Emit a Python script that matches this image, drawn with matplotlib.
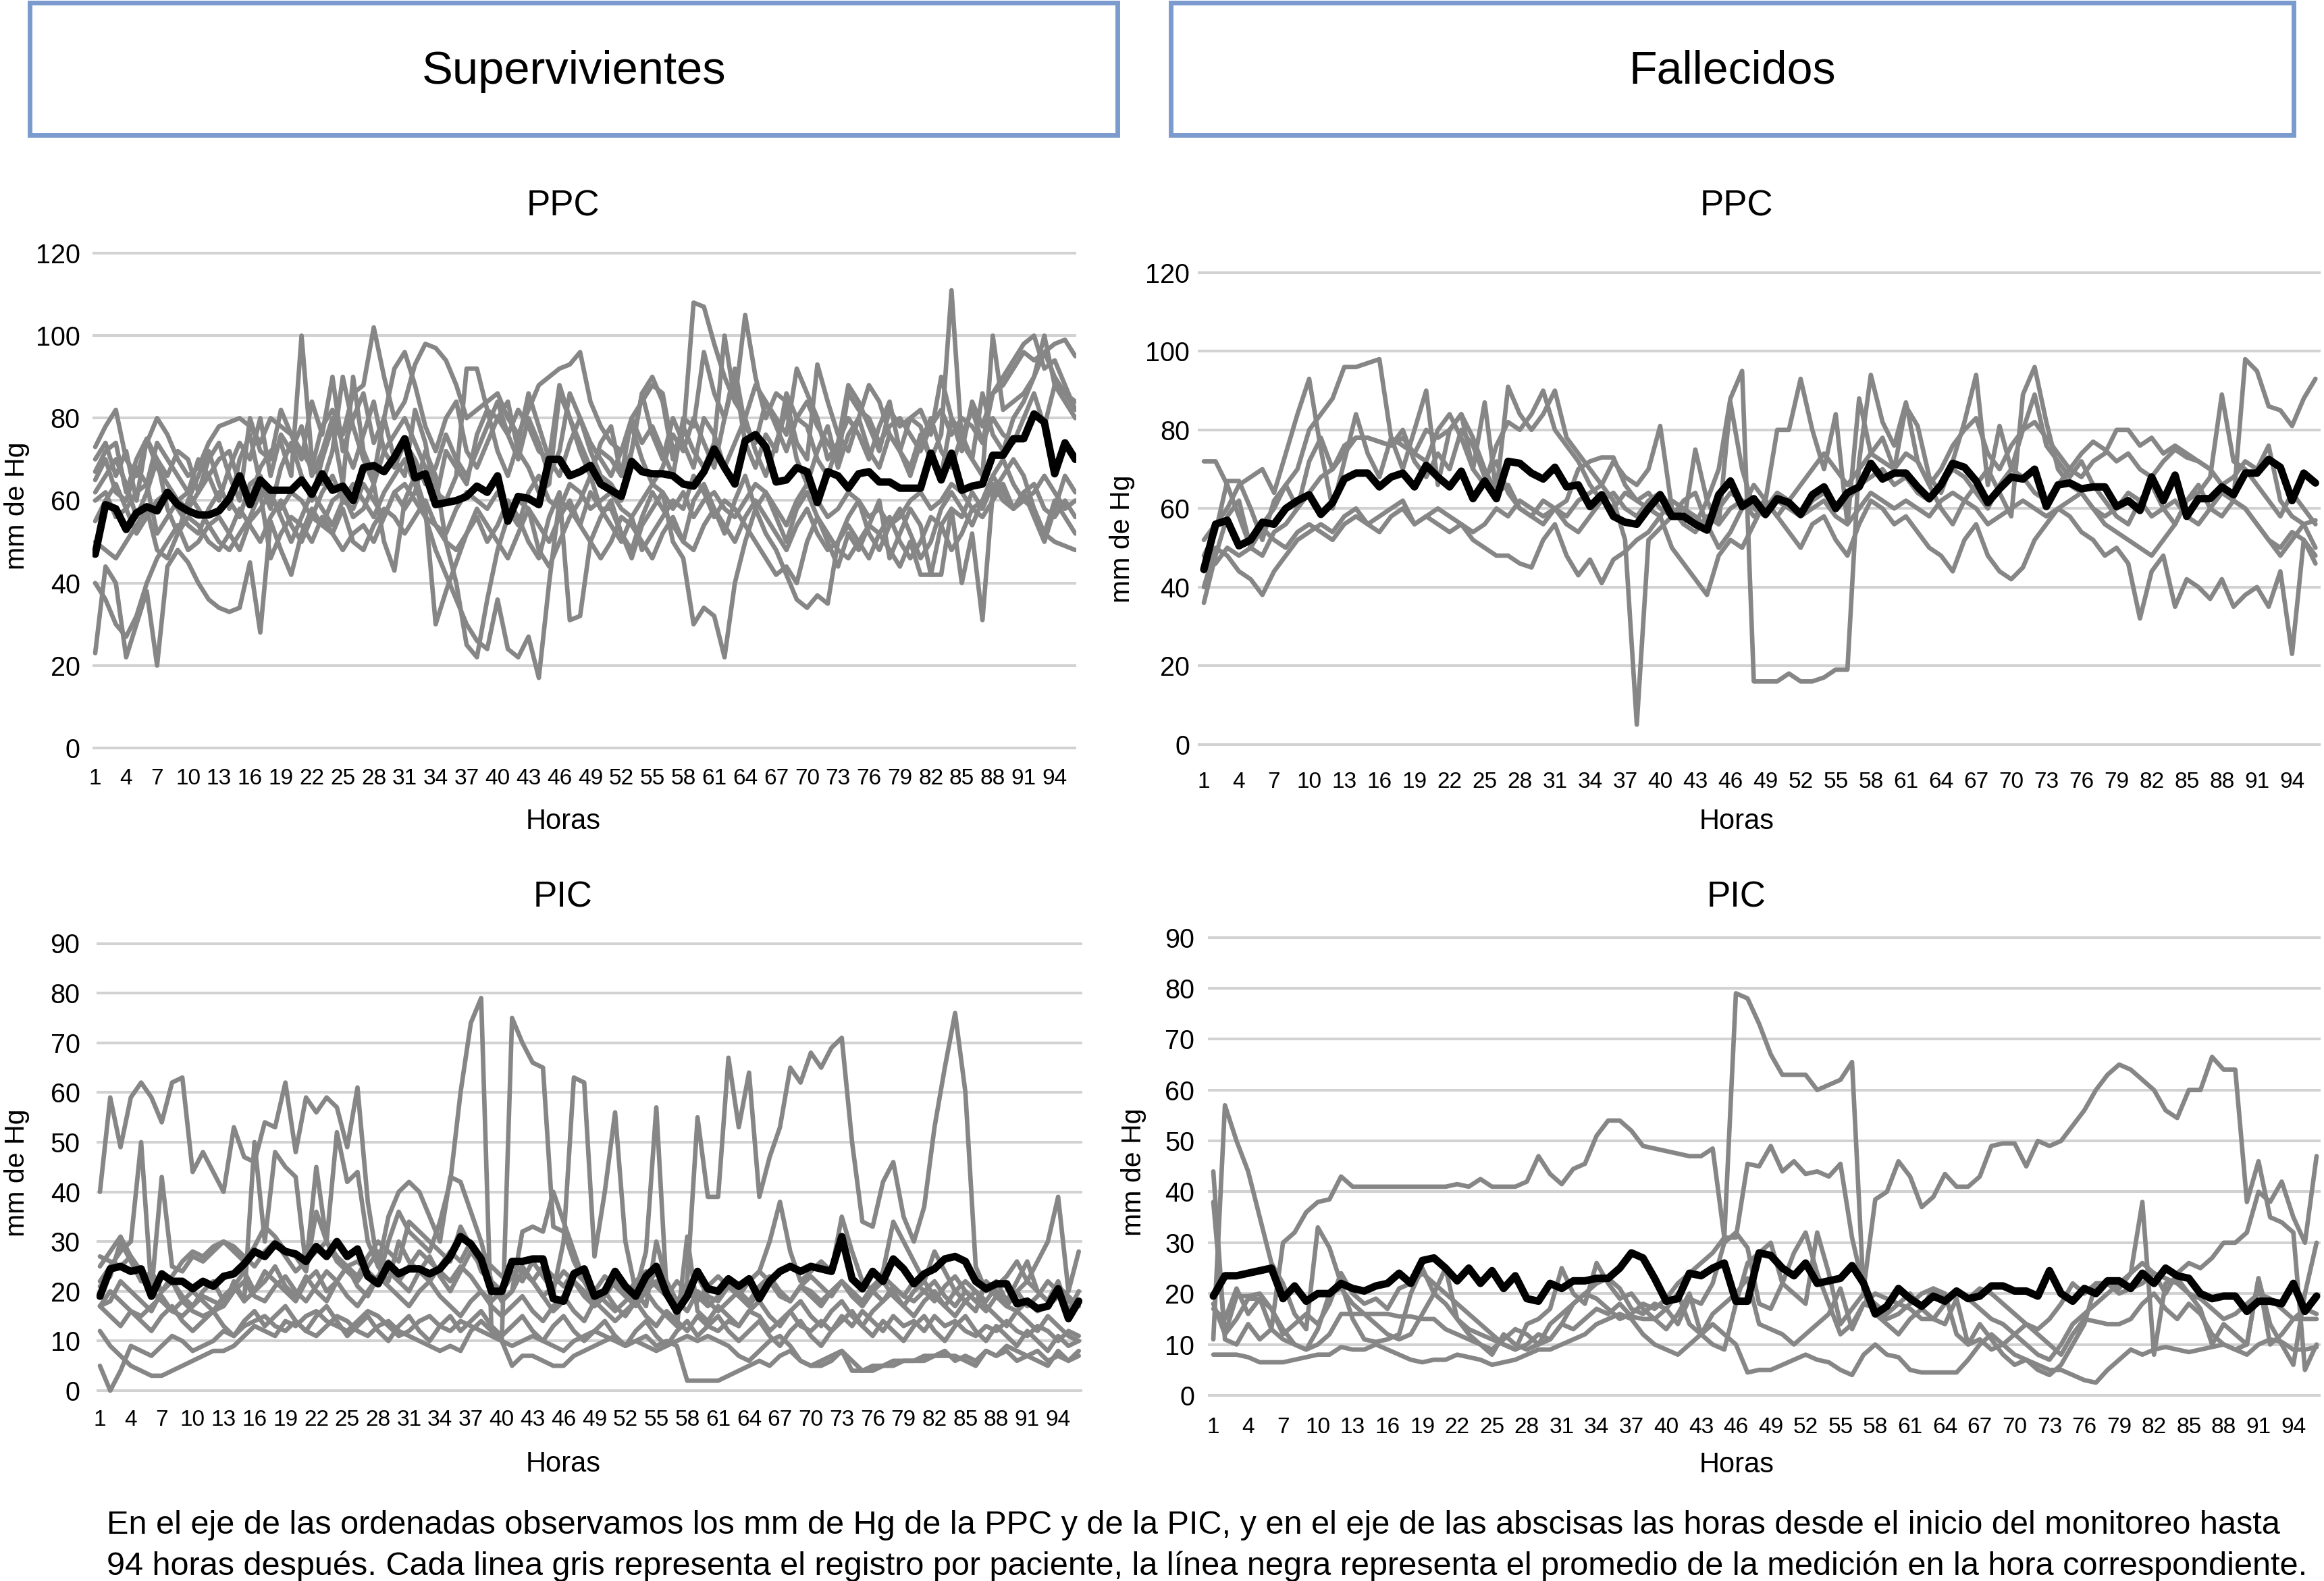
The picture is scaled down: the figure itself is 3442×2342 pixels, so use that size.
import matplotlib
matplotlib.use("Agg")
import matplotlib.pyplot as plt
from matplotlib.patches import Rectangle

# ---------------- data ----------------
TICKS_X = list(range(1, 97, 3))
TICKS_PPC = [0, 20, 40, 60, 80, 100, 120]
TICKS_PIC = [0, 10, 20, 30, 40, 50, 60, 70, 80, 90]

GROUPS = ["Supervivientes", "Fallecidos"]

S_PPC_MEAN = [47, 59, 58, 53, 57, 58.5, 57.5, 62, 59, 57.5,
              56.5, 56.5, 57.5, 60.5, 66, 59, 65, 62.5, 62.5, 62.5,
              65, 61.5, 66.5, 62.5, 63.5, 60, 68, 68.5, 67, 70.5,
              75, 65.5, 66.5, 59, 59.5, 60, 61, 63.5, 62, 66,
              55, 61, 60.5, 59, 70, 70, 66, 67, 68.5, 64,
              62.5, 61, 69.5, 67, 66.5, 66.5, 66, 64, 63.5, 67,
              72.5, 68, 64, 74.5, 76, 73, 64.5, 65, 68, 67,
              59.5, 67, 66, 63, 66.5, 67, 64.5, 64.5, 63, 63,
              63, 71.5, 65, 71.5, 62.5, 63.5, 64, 71, 71, 75,
              75, 81, 79, 66.5, 74, 70]

S_PPC_P01 = [73, 78, 82, 70, 66, 74, 80, 76, 70, 66,
             68, 74, 78, 79, 80, 78, 74, 80, 78, 76,
             72, 68, 78, 82, 76, 86, 88, 102, 90, 80,
             84, 93, 98, 97, 94, 88, 80, 82, 84, 86,
             80, 76, 82, 88, 90, 92, 93, 96, 84, 78,
             74, 72, 80, 84, 88, 86, 72, 76, 108, 107,
             98, 90, 84, 80, 88, 84, 78, 72, 80, 84,
             78, 74, 70, 86, 82, 80, 74, 78, 80, 76,
             72, 78, 82, 76, 80, 78, 74, 86, 88, 92,
             96, 94, 96, 98, 99, 95]
S_PPC_P02 = [67, 72, 74, 62, 70, 75, 68, 64, 60, 58,
             62, 66, 70, 72, 64, 60, 68, 72, 74, 66,
             100, 70, 64, 72, 90, 78, 70, 64, 72, 76,
             80, 74, 68, 62, 60, 66, 92, 92, 82, 80,
             76, 82, 78, 72, 70, 66, 74, 80, 72, 66,
             64, 60, 72, 86, 90, 84, 70, 78, 72, 68,
             74, 100, 84, 105, 90, 80, 86, 84, 74, 70,
             93, 84, 76, 72, 80, 88, 84, 76, 72, 80,
             78, 70, 76, 111, 74, 70, 66, 100, 82, 84,
             86, 90, 100, 88, 86, 82]
S_PPC_P03 = [40, 36, 30, 27, 32, 40, 46, 50, 54, 48,
             50, 54, 56, 52, 48, 55, 58, 62, 56, 50,
             56, 62, 58, 54, 60, 64, 60, 56, 62, 66,
             70, 64, 56, 48, 42, 36, 30, 26, 24, 36,
             24, 22, 27, 17, 40, 60, 58, 54, 62, 58,
             58, 52, 48, 56, 62, 58, 54, 50, 60, 64,
             58, 52, 60, 66, 58, 52, 48, 42, 36, 34,
             37, 35, 50, 56, 60, 52, 48, 54, 58, 52,
             46, 50, 58, 62, 58, 54, 60, 66, 62, 58,
             60, 58, 52, 50, 49, 48]
S_PPC_P04 = [23, 44, 40, 22, 30, 38, 20, 44, 48, 45,
             40, 36, 34, 33, 34, 45, 28, 55, 48, 42,
             52, 58, 54, 60, 62, 56, 58, 64, 50, 43,
             60, 66, 58, 30, 38, 45, 52, 56, 50, 54,
             60, 56, 50, 46, 56, 62, 31, 32, 50, 56,
             60, 52, 46, 54, 58, 62, 50, 46, 30, 34,
             32, 22, 40, 50, 58, 62, 56, 50, 58, 62,
             56, 50, 44, 52, 48, 54, 60, 46, 52, 58,
             54, 42, 42, 58, 40, 52, 31, 62, 66, 70,
             66, 58, 52, 60, 56, 52]
S_PPC_P05 = [60, 62, 56, 58, 62, 64, 52, 56, 60, 62,
             58, 54, 50, 48, 52, 56, 62, 46, 52, 56,
             54, 50, 56, 52, 48, 52, 54, 50, 56, 62,
             58, 62, 72, 66, 50, 40, 25, 22, 36, 48,
             56, 60, 58, 48, 44, 50, 56, 60, 66, 58,
             54, 50, 56, 48, 52, 56, 60, 58, 66, 62,
             56, 60, 58, 54, 50, 46, 42, 44, 40, 50,
             56, 52, 48, 46, 50, 54, 52, 48, 44, 50,
             42, 42, 54, 58, 56, 62, 58, 64, 60, 58,
             62, 56, 50, 58, 66, 62]
S_PPC_P06 = [70, 74, 66, 72, 60, 75, 70, 66, 72, 70,
             62, 70, 74, 66, 60, 80, 72, 70, 82, 76,
             70, 84, 76, 90, 72, 80, 86, 74, 80, 92,
             96, 88, 78, 72, 80, 84, 72, 68, 74, 80,
             84, 72, 68, 62, 64, 86, 80, 74, 68, 72,
             70, 66, 80, 74, 78, 72, 66, 80, 78, 96,
             86, 80, 92, 78, 74, 84, 80, 76, 92, 86,
             80, 70, 74, 88, 84, 78, 72, 82, 78, 80,
             82, 76, 90, 80, 72, 84, 78, 86, 90, 94,
             98, 100, 92, 94, 88, 82]
S_PPC_P07 = [55, 60, 64, 58, 52, 56, 60, 62, 58, 54,
             52, 58, 62, 60, 56, 64, 66, 60, 58, 62,
             60, 56, 62, 66, 60, 58, 64, 60, 56, 62,
             64, 60, 56, 54, 52, 58, 62, 60, 58, 62,
             58, 54, 62, 66, 60, 58, 64, 62, 58, 60,
             62, 58, 56, 60, 64, 62, 58, 62, 56, 60,
             62, 58, 56, 60, 64, 62, 58, 54, 60, 64,
             60, 56, 58, 62, 60, 56, 58, 54, 56, 60,
             62, 58, 60, 64, 62, 58, 60, 66, 70, 64,
             60, 62, 66, 62, 58, 60]
S_PPC_P08 = [62, 66, 70, 64, 56, 62, 70, 58, 52, 60,
             66, 72, 64, 58, 70, 76, 64, 58, 68, 74,
             66, 60, 70, 78, 64, 90, 72, 66, 80, 70,
             66, 82, 74, 60, 72, 68, 64, 76, 82, 72,
             66, 74, 86, 78, 70, 88, 80, 72, 66, 74,
             78, 66, 72, 86, 76, 70, 80, 74, 68, 80,
             76, 68, 74, 80, 72, 66, 74, 82, 70, 64,
             72, 78, 68, 76, 80, 72, 68, 76, 72, 66,
             74, 80, 72, 68, 76, 82, 74, 80, 76, 74,
             80, 86, 78, 88, 84, 80]
S_PPC_P09 = [50, 48, 46, 50, 54, 58, 48, 46, 52, 56,
             54, 50, 48, 52, 58, 54, 50, 56, 60, 54,
             50, 56, 54, 52, 58, 50, 48, 54, 58, 56,
             52, 56, 60, 54, 50, 48, 52, 58, 54, 50,
             46, 52, 58, 54, 50, 56, 60, 54, 50, 46,
             50, 56, 54, 50, 46, 52, 56, 50, 48, 54,
             58, 54, 50, 56, 60, 56, 52, 48, 54, 58,
             52, 48, 50, 54, 50, 46, 52, 56, 50, 46,
             50, 56, 54, 48, 52, 58, 56, 60, 64, 58,
             62, 64, 58, 56, 60, 56]
S_PPC_P10 = [65, 70, 62, 60, 68, 64, 74, 70, 66, 62,
             70, 66, 60, 68, 74, 70, 80, 66, 76, 72,
             78, 66, 72, 80, 74, 68, 76, 84, 72, 68,
             74, 70, 64, 68, 76, 70, 66, 72, 78, 84,
             76, 70, 80, 74, 66, 72, 86, 80, 74, 70,
             66, 72, 78, 70, 64, 68, 76, 72, 80, 74,
             68, 80, 90, 74, 68, 76, 72, 86, 80, 78,
             70, 66, 74, 80, 76, 70, 78, 84, 72, 68,
             76, 70, 66, 80, 76, 70, 86, 76, 72, 80,
             84, 90, 96, 90, 86, 84]

S_PIC_MEAN = [19, 24.5, 25, 24, 24.5, 19, 23.5, 22, 22, 20.5,
              22, 21, 23, 23.5, 25.5, 28, 27, 29.5, 28, 27.5,
              26, 29, 27, 30, 27, 28.5, 23, 21.5, 25.5, 23.5,
              24.5, 24.5, 23.5, 24.5, 27, 31, 29.5, 26.5, 20, 20,
              26, 26, 26.5, 26.5, 18.5, 18, 23.5, 24.5, 19, 20,
              24, 21, 19, 23, 25, 19.5, 16, 19, 24, 20.5,
              20, 22.5, 21, 22.5, 18.5, 22, 24, 25, 24, 25,
              24.5, 24, 31, 22.5, 20.5, 24, 22, 26.5, 24.5, 21.5,
              23.5, 24.5, 26.5, 27, 26, 22, 20.5, 21.5, 21.5, 17.5,
              18, 16.5, 17, 20.5, 14.5, 18]

S_PIC_P01 = [40, 59, 49, 59, 62, 59, 54, 62, 63, 44,
             48, 44, 40, 53, 47, 46, 54, 53, 62, 48,
             59, 56, 59, 57, 49, 61, 38, 25, 22, 30,
             26, 24, 22, 25, 28, 26, 30, 24, 22, 18,
             20, 24, 22, 19, 16, 18, 22, 20, 17, 19,
             22, 20, 18, 21, 24, 19, 17, 20, 23, 19,
             18, 21, 19, 17, 20, 22, 19, 18, 21, 20,
             18, 20, 22, 19, 17, 20, 18, 21, 19, 18,
             20, 22, 19, 17, 20, 18, 16, 19, 17, 16,
             18, 16, 17, 19, 16, 18]
S_PIC_P02 = [27, 26, 25, 27, 24, 22, 20, 22, 18, 16,
             15, 16, 17, 22, 18, 20, 24, 22, 20, 18,
             22, 24, 20, 22, 25, 26, 24, 22, 30, 36,
             32, 30, 28, 34, 42, 60, 74, 79, 12, 10,
             75, 70, 66, 65, 33, 32, 26, 22, 18, 16,
             14, 16, 18, 15, 13, 16, 14, 12, 15, 13,
             12, 14, 13, 16, 15, 12, 14, 16, 13, 12,
             14, 12, 15, 13, 16, 14, 12, 15, 13, 14,
             12, 15, 13, 14, 12, 11, 13, 12, 14, 12,
             11, 13, 12, 10, 12, 11]
S_PIC_P03 = [17, 18, 22, 20, 18, 16, 20, 22, 19, 17,
             20, 22, 18, 21, 24, 20, 22, 25, 21, 19,
             23, 20, 18, 22, 25, 21, 19, 23, 26, 22,
             20, 24, 27, 23, 20, 24, 28, 25, 22, 20,
             24, 22, 26, 23, 20, 30, 63, 62, 27, 40,
             56, 30, 20, 28, 57, 20, 15, 22, 55, 39,
             39, 67, 53, 64, 39, 47, 53, 65, 62, 68,
             65, 69, 71, 50, 34, 33, 42, 46, 35, 30,
             37, 53, 65, 76, 60, 25, 20, 22, 18, 20,
             17, 19, 22, 20, 18, 17]
S_PIC_P04 = [22, 25, 28, 30, 50, 20, 43, 25, 24, 27,
             26, 28, 30, 29, 27, 25, 28, 30, 27, 24,
             26, 28, 30, 26, 24, 22, 25, 28, 24, 22,
             25, 28, 26, 24, 22, 25, 23, 20, 18, 20,
             23, 25, 22, 19, 21, 24, 22, 19, 17, 20,
             22, 19, 17, 20, 22, 19, 18, 21, 19, 17,
             19, 22, 20, 18, 21, 23, 20, 18, 21, 19,
             17, 20, 22, 19, 17, 20, 22, 19, 17, 20,
             22, 19, 17, 20, 22, 20, 18, 21, 23, 26,
             22, 26, 30, 39, 20, 28]
S_PIC_P05 = [17, 20, 18, 16, 15, 17, 19, 16, 18, 20,
             18, 16, 19, 21, 18, 50, 30, 48, 45, 43,
             25, 45, 30, 52, 42, 44, 30, 25, 35, 40,
             42, 40, 35, 30, 43, 42, 36, 30, 22, 18,
             20, 32, 33, 32, 40, 34, 28, 22, 20, 18,
             16, 18, 20, 17, 30, 22, 18, 16, 20, 18,
             16, 18, 20, 22, 24, 30, 38, 28, 22, 24,
             26, 24, 35, 28, 22, 20, 24, 34, 30, 26,
             22, 28, 24, 20, 18, 16, 22, 20, 18, 22,
             26, 20, 18, 22, 16, 20]
S_PIC_P06 = [5, 0, 4, 9, 8, 7, 9, 11, 10, 8,
             9, 10, 12, 11, 13, 14, 15, 13, 12, 14,
             12, 11, 13, 15, 14, 12, 11, 13, 14, 12,
             11, 10, 9, 8, 9, 8, 12, 14, 12, 10,
             9, 10, 11, 10, 9, 8, 10, 11, 12, 11,
             10, 9, 10, 11, 9, 10, 9, 2, 2, 2,
             2, 3, 4, 5, 6, 5, 7, 8, 6, 5,
             6, 7, 8, 6, 4, 4, 5, 5, 6, 6,
             7, 7, 8, 6, 7, 6, 8, 7, 9, 8,
             7, 8, 6, 7, 6, 8]
S_PIC_P07 = [12, 9, 7, 5, 4, 3, 3, 4, 5, 6,
             7, 8, 8, 9, 11, 13, 12, 11, 14, 13,
             15, 16, 14, 13, 12, 14, 16, 15, 13, 11,
             12, 14, 15, 13, 12, 14, 13, 12, 11, 10,
             5, 7, 7, 6, 5, 5, 7, 8, 9, 10,
             11, 9, 10, 9, 8, 9, 10, 11, 10, 11,
             10, 9, 7, 6, 8, 10, 11, 9, 6, 5,
             5, 6, 8, 4, 4, 5, 5, 6, 6, 6,
             6, 7, 7, 7, 6, 5, 8, 7, 8, 6,
             7, 6, 5, 8, 6, 7]
S_PIC_P08 = [25, 28, 31, 27, 24, 20, 18, 16, 15, 17,
             19, 18, 17, 20, 22, 19, 18, 21, 23, 20,
             18, 21, 24, 22, 19, 17, 20, 23, 21, 19,
             17, 20, 22, 19, 17, 15, 18, 20, 17, 15,
             17, 19, 16, 14, 17, 19, 16, 14, 18, 20,
             17, 15, 18, 20, 17, 15, 13, 31, 16, 14,
             17, 15, 13, 16, 18, 15, 13, 16, 18, 15,
             13, 16, 18, 15, 13, 16, 18, 20, 17, 15,
             18, 20, 17, 15, 18, 20, 17, 15, 13, 16,
             14, 12, 15, 13, 11, 10]
S_PIC_P09 = [17, 15, 13, 16, 14, 12, 15, 17, 14, 12,
             14, 16, 13, 11, 14, 16, 13, 15, 17, 14,
             12, 15, 17, 14, 11, 13, 15, 12, 10, 13,
             15, 12, 10, 13, 15, 12, 14, 16, 13, 11,
             13, 15, 12, 10, 13, 15, 12, 10, 12, 14,
             11, 9, 12, 14, 11, 9, 12, 14, 11, 13,
             15, 12, 10, 12, 14, 11, 9, 12, 14, 11,
             9, 12, 14, 16, 13, 11, 14, 12, 10, 13,
             15, 12, 10, 13, 15, 12, 10, 13, 11, 9,
             12, 10, 8, 11, 9, 10]
S_PIC_P10 = [21, 23, 30, 26, 22, 24, 20, 23, 26, 28,
             27, 29, 30, 28, 26, 29, 33, 31, 28, 27,
             24, 36, 30, 27, 25, 23, 27, 30, 28, 26,
             34, 32, 30, 28, 26, 33, 29, 27, 25, 23,
             26, 24, 22, 25, 23, 21, 24, 22, 20, 23,
             21, 19, 22, 24, 21, 19, 22, 20, 18, 21,
             23, 21, 19, 22, 24, 22, 20, 18, 21, 23,
             21, 19, 22, 20, 18, 21, 23, 21, 19, 22,
             20, 18, 21, 23, 20, 18, 21, 19, 17, 20,
             22, 20, 18, 21, 19, 17]

F_PPC_MEAN = [44.5, 56, 57, 50.5, 52, 56.5, 56, 60, 62, 63.5,
              58.5, 61.5, 67.5, 69, 69, 65.5, 68, 69, 65.5, 71,
              68, 65.5, 69.5, 62.5, 67, 62.5, 72, 71.5, 69, 67.5,
              70.5, 65.5, 66, 60.5, 63.5, 58, 56.5, 56, 60, 63.5,
              58, 58, 56, 54.5, 63.5, 67, 60.5, 62.5, 58.5, 62.5,
              61.5, 58.5, 63.5, 65.5, 60, 64, 65.5, 71.5, 67.5, 69,
              69, 65.5, 62.5, 66, 71.5, 70.5, 67, 61.5, 65, 68,
              67.5, 70, 60.5, 66, 66.5, 65, 65.5, 65.5, 60.5, 62,
              59.5, 68, 62, 68.5, 58, 62.5, 62.5, 65.5, 63.5, 69,
              69, 72.5, 70.5, 62, 69, 66.5]

F_PPC_P01 = [36, 48, 58, 62, 50, 56, 60, 66, 70, 80,
             84, 88, 96, 96, 97, 98, 78, 76, 74, 72,
             80, 84, 78, 70, 66, 76, 82, 80, 84, 90,
             80, 76, 72, 66, 62, 60, 64, 62, 60, 58,
             62, 60, 58, 55, 60, 64, 62, 60, 58, 62,
             60, 58, 62, 64, 60, 62, 66, 68, 70, 66,
             68, 64, 62, 66, 70, 68, 64, 60, 66, 70,
             68, 64, 62, 66, 70, 68, 72, 74, 80, 80,
             76, 78, 74, 76, 74, 72, 70, 66, 62, 98,
             95, 86, 85, 81, 88, 93]
F_PPC_P02 = [72, 72, 66, 58, 50, 48, 54, 56, 60, 64,
             68, 70, 74, 78, 78, 77, 76, 80, 72, 68,
             74, 70, 80, 76, 68, 72, 64, 60, 58, 62,
             60, 58, 62, 64, 66, 62, 52, 5, 52, 55,
             58, 60, 56, 62, 70, 88, 95, 16, 16, 16,
             18, 16, 16, 17, 19, 19, 72, 94, 82, 76,
             87, 72, 66, 60, 56, 62, 66, 70, 64, 58,
             89, 96, 82, 70, 66, 64, 60, 56, 54, 52,
             50, 48, 52, 56, 62, 66, 60, 58, 62, 60,
             56, 52, 48, 52, 56, 50]
F_PPC_P03 = [52, 56, 60, 66, 68, 70, 64, 74, 84, 93,
             75, 60, 72, 84, 74, 68, 78, 70, 80, 90,
             66, 80, 84, 70, 87, 64, 91, 84, 80, 84,
             90, 78, 74, 70, 66, 72, 68, 66, 70, 81,
             60, 56, 75, 62, 56, 87, 70, 60, 62, 80,
             80, 93, 80, 70, 84, 56, 88, 74, 78, 70,
             86, 81, 68, 64, 72, 82, 94, 66, 81, 70,
             80, 89, 76, 72, 68, 72, 66, 62, 58, 56,
             62, 66, 60, 56, 62, 64, 68, 89, 72, 70,
             66, 62, 58, 64, 60, 56]
F_PPC_P04 = [40, 50, 48, 44, 42, 38, 44, 48, 52, 54,
             56, 54, 58, 60, 56, 58, 60, 62, 56, 58,
             56, 54, 56, 52, 50, 48, 48, 46, 45, 52,
             56, 48, 43, 47, 41, 47, 49, 52, 54, 58,
             50, 46, 42, 38, 48, 52, 50, 56, 62, 58,
             54, 50, 56, 58, 52, 48, 56, 62, 60, 56,
             58, 54, 50, 48, 44, 52, 56, 48, 44, 42,
             45, 52, 56, 60, 58, 54, 52, 48, 50, 46,
             32, 44, 48, 35, 42, 40, 37, 42, 35, 38,
             40, 35, 44, 23, 52, 48]
F_PPC_P05 = [48, 54, 67, 67, 60, 52, 62, 66, 60, 72,
             78, 70, 76, 78, 78, 77, 76, 78, 74, 80,
             78, 80, 84, 78, 70, 64, 66, 60, 58, 56,
             60, 62, 70, 72, 73, 73, 66, 62, 64, 60,
             58, 62, 64, 56, 50, 54, 60, 66, 62, 58,
             62, 66, 70, 74, 70, 66, 70, 74, 72, 70,
             74, 72, 66, 70, 76, 80, 83, 74, 70, 76,
             80, 82, 78, 74, 70, 74, 77, 75, 72, 74,
             70, 68, 72, 75, 73, 72, 70, 66, 68, 72,
             70, 76, 62, 58, 56, 57]
F_PPC_P06 = [44, 46, 50, 48, 50, 55, 52, 50, 54, 56,
             54, 52, 56, 58, 56, 54, 58, 60, 56, 58,
             60, 58, 56, 54, 56, 60, 58, 62, 60, 58,
             60, 56, 54, 58, 62, 64, 60, 58, 62, 64,
             60, 56, 54, 58, 56, 60, 62, 58, 60, 64,
             62, 58, 60, 62, 58, 56, 60, 64, 62, 60,
             62, 60, 58, 62, 64, 62, 60, 56, 58, 60,
             62, 60, 58, 60, 62, 64, 60, 58, 60, 64,
             62, 58, 60, 62, 58, 56, 60, 64, 62, 60,
             56, 52, 50, 54, 52, 46]

F_PIC_MEAN = [19.5, 23.5, 23.5, 24, 24.5, 25, 19, 21.5, 18.5, 20,
              20, 22, 21, 20.5, 21.5, 22, 24, 22, 26.5, 27,
              25, 22.5, 25, 22, 24.5, 21, 23.5, 19, 18.5, 22,
              21, 22.5, 22.5, 23, 23, 25, 28, 27, 23, 18.5,
              19, 24, 23.5, 25, 26, 18.5, 18.5, 28, 27.5, 25,
              23.5, 26, 22, 22.5, 23, 25.5, 22, 16, 17.5, 21,
              19, 17.5, 19.5, 18.5, 20.5, 19, 19.5, 21.5, 21.5, 20.5,
              20.5, 19.5, 24.5, 20, 18.5, 21, 20, 22.5, 22.5, 21,
              24, 22, 25, 23.5, 23, 20, 19, 19.5, 19.5, 16.5,
              18.5, 18.5, 18, 22, 16.5, 19.5]

F_PIC_P01 = [18, 12, 15, 19, 19, 13, 30, 32, 36, 38,
             38.5, 43, 41, 41, 41, 41, 41, 41, 41, 41,
             41, 41.5, 41, 42.5, 41, 41, 41, 42, 47, 43.5,
             41.5, 44.5, 45.5, 51, 54, 54, 52, 49, 48.5, 48,
             47.5, 47, 47, 48.5, 31, 31, 45.5, 45, 49, 44,
             46, 43.5, 44, 43, 45.5, 31, 21, 38.5, 40, 46,
             43, 37, 39, 43.5, 41, 41, 43, 49, 49.5, 49.5,
             45, 50, 49, 50, 53, 56, 60, 63, 65, 64,
             62, 60, 56, 54.5, 60, 60, 66.5, 64, 64, 38,
             46, 35, 34, 32, 5, 10]
F_PIC_P02 = [44, 11, 10, 14, 11, 13, 11, 10, 9, 13,
             20, 21, 18, 16, 14, 12, 11, 12, 16, 20,
             18, 15, 12, 10, 9, 11, 13, 12, 10, 14,
             16, 18, 20, 19, 17, 15, 16, 18, 17, 19,
             22, 24, 26, 28, 31, 79, 78, 73, 67, 63,
             63, 63, 60, 61, 62, 65.5, 20, 18, 16, 18,
             20, 17, 15, 18, 20, 19, 17, 15, 14, 12,
             10, 8, 7, 10, 14, 16, 18, 20, 22, 24,
             26, 24, 20, 24, 26, 25, 27, 30, 30, 32,
             40, 38, 42, 35, 30, 47]
F_PIC_P03 = [11, 57, 50, 44, 35, 26, 22, 16, 13, 33,
             29, 22, 15, 11, 10.5, 11, 12, 20, 25, 20,
             25, 15, 13, 12, 11, 10, 9, 14, 15, 17,
             25, 20, 18, 26, 22, 19, 20, 17, 15, 13,
             16, 20, 12, 10, 9, 18, 26, 28, 30, 22,
             20, 18, 32, 24, 14, 17, 20, 16, 14, 12,
             15, 17, 21, 20, 12, 10, 14, 11, 8, 6,
             7, 5, 4, 6, 10, 14, 22, 22, 21, 24,
             38, 8, 22, 23, 20, 17, 10, 14, 12, 10,
             23, 14, 10, 6, 20, 30]
F_PIC_P04 = [8, 8, 8, 7.5, 6.5, 6.5, 6.5, 7, 7.5, 8,
             8, 9.5, 9, 9, 10, 9, 8, 7, 6.5, 7,
             7, 8, 7.5, 7, 6, 6.5, 7, 8, 9, 9,
             10, 11, 12, 14, 15, 16, 15, 12, 10, 9,
             8, 10, 12, 14, 12, 10, 4.5, 5, 5, 6,
             7, 8, 7, 6.5, 5, 4, 8, 10, 8, 7.5,
             5, 4.5, 4.5, 4.5, 4.5, 7, 10, 12, 10, 8,
             7, 6, 5, 5, 4, 3, 2.5, 5, 7, 9,
             8, 9, 9.5, 9, 8.5, 9, 9.5, 10, 9, 8,
             10, 11, 10.5, 9, 9, 9.5]
F_PIC_P05 = [38, 12, 19.5, 19.5, 20, 17, 13, 10, 9, 10,
             12, 16, 16, 16, 16, 16, 15.5, 15.5, 15, 15,
             13, 12, 11, 10, 8, 12, 10, 9, 10, 11,
             14, 13, 15, 17, 16, 18, 15.5, 15, 15, 17,
             20, 14, 12, 16, 18, 20, 23, 14, 13, 12,
             10, 12, 14, 16, 21, 13, 18, 20, 19, 18,
             17, 15, 15, 14, 19, 10, 11, 9, 10, 12,
             14, 12, 10, 8, 12, 15, 14.5, 14, 14, 15,
             18, 20, 17, 15, 18, 16, 12, 10, 9, 10,
             23, 10, 12, 15, 15, 15]
F_PIC_P06 = [17, 15, 21, 16, 19, 17, 12, 14, 16, 14,
             18, 24, 20, 18, 19, 17, 21, 22, 24, 22,
             20, 18, 16, 14, 12, 10, 9, 10, 12, 11,
             14, 18, 20, 22, 23, 21, 17, 16, 18, 17,
             14, 19, 18, 22, 30, 32, 29, 18, 17, 22,
             28, 32, 24, 18, 12, 14, 18, 17, 15, 16,
             18, 20, 21, 19, 20, 19, 21, 20, 18, 16,
             14, 13, 15, 18, 22, 20, 22, 22, 20, 21,
             22, 24, 23, 22, 20, 19, 17, 15, 16, 18,
             20, 19, 17, 15, 17, 16]

CAPTION_1 = ("En el eje de las ordenadas observamos los mm de Hg de la PPC y de la PIC, "
             "y en el eje de las abscisas las horas desde el inicio del monitoreo hasta")
CAPTION_2 = ("94 horas después. Cada linea gris representa el registro por paciente, "
             "la línea negra representa el promedio de la medición en la hora correspondiente.")

# ---------------- figure ----------------
W, H = 3442, 2342
plt.rcParams["font.family"] = ["Liberation Sans", "DejaVu Sans"]
fig = plt.figure(figsize=(W / 100, H / 100), dpi=100)
fig.patch.set_facecolor("white")

PX2PT = 0.72
GREY = "#868686"
GRID = "#d2d2d2"
BOXC = "#7b9bcf"


def T(x, y, s, **kw):
    kw.setdefault("ha", "center")
    kw.setdefault("va", "baseline")
    return fig.text(x / W, 1 - y / H, s, **kw)


def panel(gx0, gx1, cat1, step, y0, ytop, topval, ypad, yticks,
          ylab_pad_px, xlab_top_px, greys, mean):
    xl = 1 + (gx0 - cat1) / step
    xr = 1 + (gx1 - cat1) / step
    ppu = (y0 - ytop) / topval
    bottom = y0 + ypad * ppu
    top = ytop - ypad * ppu
    ax = fig.add_axes([gx0 / W, 1 - bottom / H, (gx1 - gx0) / W, (bottom - top) / H])
    ax.set_xlim(xl, xr)
    ax.set_ylim(-ypad, topval + ypad)
    for s in ax.spines.values():
        s.set_visible(False)
    ax.set_xticks(TICKS_X)
    ax.set_yticks(yticks)
    ax.yaxis.grid(True, color=GRID, lw=2.9)
    ax.xaxis.grid(False)
    ax.set_axisbelow(True)
    ax.tick_params(axis="x", length=0, labelsize=24, pad=(xlab_top_px - bottom) * PX2PT)
    ax.tick_params(axis="y", length=0, labelsize=28.5, pad=ylab_pad_px * PX2PT)
    ax.patch.set_alpha(0)
    for g in greys:
        ax.plot(range(1, len(g) + 1), g, color=GREY, lw=4.8,
                solid_joinstyle="round", solid_capstyle="round", zorder=2)
    ax.plot(range(1, len(mean) + 1), mean, color="black", lw=8,
            solid_joinstyle="round", solid_capstyle="round", zorder=3)
    return ax


S_PPC_GREYS = [S_PPC_P01, S_PPC_P02, S_PPC_P03, S_PPC_P04, S_PPC_P05,
               S_PPC_P06, S_PPC_P07, S_PPC_P08, S_PPC_P09, S_PPC_P10]
S_PIC_GREYS = [S_PIC_P01, S_PIC_P02, S_PIC_P03, S_PIC_P04, S_PIC_P05,
               S_PIC_P06, S_PIC_P07, S_PIC_P08, S_PIC_P09, S_PIC_P10]
F_PPC_GREYS = [F_PPC_P01, F_PPC_P02, F_PPC_P03, F_PPC_P04, F_PPC_P05, F_PPC_P06]
F_PIC_GREYS = [F_PIC_P01, F_PIC_P02, F_PIC_P03, F_PIC_P04, F_PIC_P05, F_PIC_P06]

panel(137, 1594, 141, 15.28, 1108, 375, 120, 2.0, TICKS_PPC, 18.5, 1138,
      S_PPC_GREYS, S_PPC_MEAN)
panel(1774, 3437, 1783, 17.33, 1102.5, 404, 120, 2.0, TICKS_PPC, 12, 1143,
      F_PPC_GREYS, F_PPC_MEAN)
panel(143, 1603, 148, 15.26, 2060, 1397.5, 90, 1.5, TICKS_PIC, 24.5, 2088,
      S_PIC_GREYS, S_PIC_MEAN)
panel(1789, 3437, 1797, 17.2, 2067, 1388.5, 90, 1.5, TICKS_PIC, 20, 2099,
      F_PIC_GREYS, F_PIC_MEAN)

# header boxes
for (x0, x1) in [(44, 1655), (1734, 3397)]:
    fig.add_artist(Rectangle((x0 / W, 1 - 200 / H), (x1 - x0) / W, 196 / H,
                             transform=fig.transFigure, fill=False,
                             ec=BOXC, lw=5))
T(850, 124, GROUPS[0], fontsize=49.5)
T(2566, 124, GROUPS[1], fontsize=49)

# panel titles
T(834, 320, "PPC", fontsize=38)
T(2572, 320, "PPC", fontsize=38)
T(834, 1343, "PIC", fontsize=38)
T(2572, 1343, "PIC", fontsize=38)

# x axis titles
T(834, 1228, "Horas", fontsize=30)
T(2572, 1228, "Horas", fontsize=30)
T(834, 2180, "Horas", fontsize=30)
T(2572, 2181, "Horas", fontsize=30)

# y axis titles
for (x, y) in [(25, 749), (1662, 798), (25, 1737), (1679, 1736)]:
    T(x, y, "mm de Hg", fontsize=29.5, rotation=90, va="center")

# caption
c1 = T(158, 2272, CAPTION_1, fontsize=33, ha="left")
c2 = T(158, 2333, CAPTION_2, fontsize=33, ha="left")
fig.canvas.draw()
r = fig.canvas.get_renderer()
w2 = c2.get_window_extent(r).width
fs = 33 * 3264 / w2
c1.set_fontsize(fs)
c2.set_fontsize(fs)

fig.savefig("out.png", dpi=100, facecolor="white")
